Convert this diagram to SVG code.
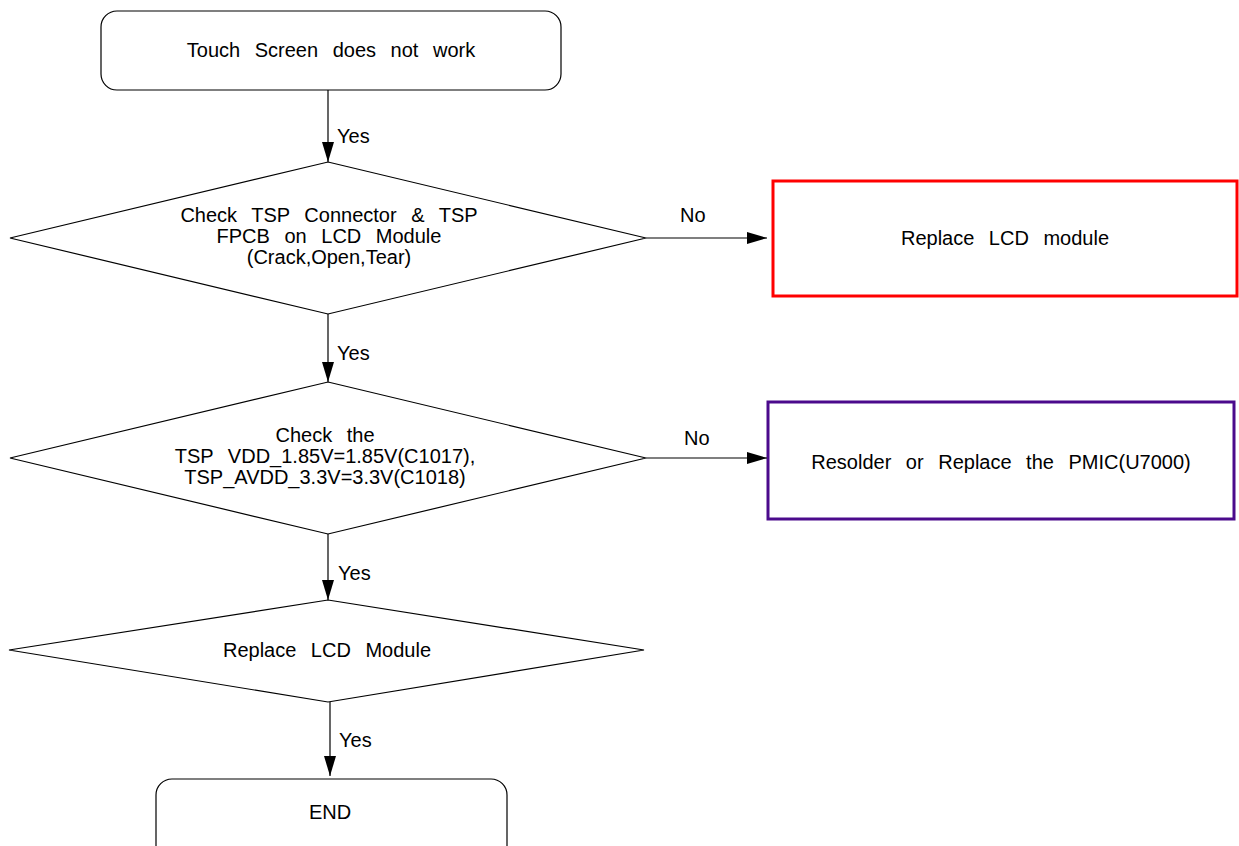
<svg xmlns="http://www.w3.org/2000/svg" width="1239" height="846" viewBox="0 0 1239 846">
<style>
.t{font-family:"Liberation Sans",Arial,sans-serif;font-size:20px;fill:#000;word-spacing:9px;text-anchor:middle}
.l{font-family:"Liberation Sans",Arial,sans-serif;font-size:20px;fill:#000}
.s{fill:#fff;stroke:#000;stroke-width:1.2}
.c{stroke:#000;stroke-width:1.2;fill:none}
</style>
<defs>
<marker id="ah" viewBox="0 0 20 12" refX="20" refY="6" markerWidth="20" markerHeight="12" markerUnits="userSpaceOnUse" orient="auto">
<path d="M0,0 L20,6 L0,12 Z" fill="#000"/>
</marker>
</defs>
<rect width="1239" height="846" fill="#fff"/>
<g id="start">
<rect class="s" x="101" y="11" width="460" height="79" rx="16"/>
<text class="t" x="331" y="57">Touch Screen does not work</text>
</g>
<g id="check-connector">
<polygon class="s" points="328,162 646,238 328,314 10,238"/>
<text class="t" x="329" y="222">Check TSP Connector &amp; TSP</text>
<text class="t" x="329" y="243">FPCB on LCD Module</text>
<text class="t" x="329" y="264">(Crack,Open,Tear)</text>
</g>
<g id="replace-lcd">
<rect x="773" y="181" width="464" height="115" fill="#fff" stroke="#ff0000" stroke-width="3"/>
<text class="t" x="1005" y="245">Replace LCD module</text>
</g>
<g id="check-voltage">
<polygon class="s" points="328,382 646,458 328,534 10,458"/>
<text class="t" x="325" y="442">Check the</text>
<text class="t" x="325" y="463">TSP VDD_1.85V=1.85V(C1017),</text>
<text class="t" x="325" y="484">TSP_AVDD_3.3V=3.3V(C1018)</text>
</g>
<g id="resolder-pmic">
<rect x="768" y="402" width="466" height="117" fill="#fff" stroke="#4b0a8c" stroke-width="3"/>
<text class="t" x="1001" y="469">Resolder or Replace the PMIC(U7000)</text>
</g>
<g id="replace-lcd-module">
<polygon class="s" points="328,600 644,650 328,702 9,650"/>
<text class="t" x="327" y="657">Replace LCD Module</text>
</g>
<g id="end">
<rect class="s" x="156" y="779" width="351" height="90" rx="16"/>
<text class="t" x="330" y="819">END</text>
</g>
<g id="connectors">
<line class="c" x1="328" y1="90" x2="328" y2="162" marker-end="url(#ah)"/>
<text class="l" x="337" y="143">Yes</text>
<line class="c" x1="328" y1="314" x2="328" y2="382" marker-end="url(#ah)"/>
<text class="l" x="337" y="360">Yes</text>
<line class="c" x1="328" y1="534" x2="328" y2="600" marker-end="url(#ah)"/>
<text class="l" x="338" y="580">Yes</text>
<line class="c" x1="330" y1="702" x2="330" y2="776" marker-end="url(#ah)"/>
<text class="l" x="339" y="747">Yes</text>
<line class="c" x1="646" y1="238" x2="767" y2="238" marker-end="url(#ah)"/>
<text class="l" x="680" y="222">No</text>
<line class="c" x1="646" y1="458" x2="767" y2="458" marker-end="url(#ah)"/>
<text class="l" x="684" y="445">No</text>
</g>
</svg>
